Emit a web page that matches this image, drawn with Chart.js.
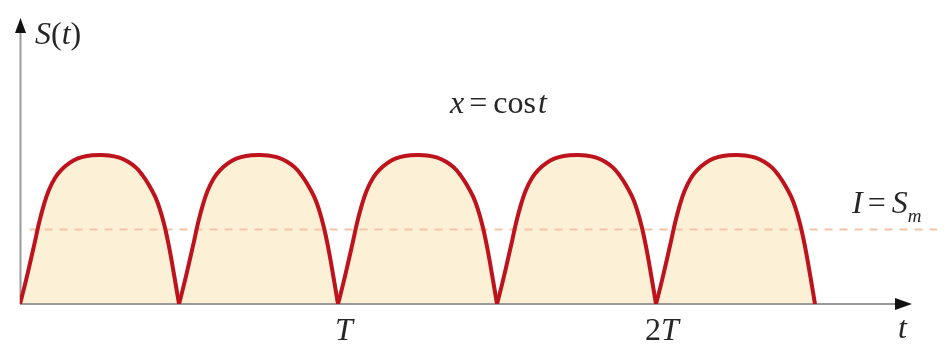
<!DOCTYPE html>
<html>
<head>
<meta charset="utf-8">
<script src="https://cdn.jsdelivr.net/npm/chart.js@4.4.1/dist/chart.umd.min.js"></script>
<style>
  body { margin: 0; background: #fff; }
  #wrap { width: 946px; height: 344px; }
</style>
</head>
<body>
<div id="wrap"><canvas id="signalChart"></canvas></div>
<script>
// one arch of S(t): position inside the arch (0..1) and its height (peak = 1)
const archPhase = [0, 0.03, 0.06, 0.09, 0.12, 0.15, 0.18, 0.22, 0.26, 0.31, 0.36, 0.42, 0.5,
  0.56, 0.62, 0.68, 0.73, 0.77, 0.81, 0.85, 0.88, 0.91, 0.94, 0.97, 1];
const archLevel = [0, 0.125, 0.26, 0.4, 0.545, 0.665, 0.76, 0.845, 0.9, 0.945, 0.975, 0.993, 1,
  0.997, 0.984, 0.955, 0.915, 0.865, 0.8, 0.72, 0.635, 0.52, 0.37, 0.19, 0];

// arches start every half period (t in units of T)
const archStarts = [0, 0.5, 1, 1.5, 2];
const archWidth = 0.5;

// mean level I = S_m
const meanLevel = 0.5;
const meanSpan = [0.03, 2.884];

const tickValues = [1, 2];
const tickLabels = [[{ t: "T", i: true }], [{ t: "2", i: false }, { t: "T", i: true }]];

const serif = "'Liberation Serif', 'DejaVu Serif', serif";
const inkColor = "#262626";
const axisColor = "#9a9a9a";

const archSets = archStarts.map((start) => ({
  data: archPhase.map((p, k) => ({ x: start + p * archWidth, y: archLevel[k] })),
  borderColor: "rgb(190, 18, 28)",
  borderWidth: 4,
  backgroundColor: "rgb(252, 240, 214)",
  fill: "origin",
  pointRadius: 0,
  tension: 0.4,
  borderJoinStyle: "round",
}));

const meanSet = {
  data: meanSpan.map((x) => ({ x: x, y: meanLevel })),
  borderColor: "rgb(242, 196, 168)",
  borderWidth: 2,
  borderDash: [8, 7],
  pointRadius: 0,
  fill: false,
  clip: false,
};

// text made of upright and italic pieces
const drawRuns = (ctx, x, y, runs, size, align) => {
  const fontOf = (r) => `${r.i ? "italic " : ""}${r.size || size}px ${serif}`;
  let width = 0;
  runs.forEach((r) => {
    ctx.font = fontOf(r);
    width += ctx.measureText(r.t).width + (r.gap || 0);
  });
  let cx = align === "center" ? x - width / 2 : x;
  runs.forEach((r) => {
    ctx.font = fontOf(r);
    ctx.fillText(r.t, cx, y + (r.dy || 0));
    cx += ctx.measureText(r.t).width + (r.gap || 0);
  });
};

const axesPlugin = {
  id: "axesPlugin",
  beforeDatasetsDraw(chart) {
    const { ctx, chartArea } = chart;
    const left = chartArea.left;
    const bottom = chartArea.bottom;
    ctx.save();
    ctx.strokeStyle = axisColor;
    ctx.lineWidth = 2;
    ctx.beginPath();
    ctx.moveTo(left + 0.5, bottom);
    ctx.lineTo(left + 0.5, chartArea.top + 10);
    ctx.moveTo(left, bottom);
    ctx.lineTo(chartArea.right - 10, bottom);
    ctx.stroke();

    ctx.fillStyle = "#111";
    ctx.beginPath();
    ctx.moveTo(left + 0.5, chartArea.top);
    ctx.lineTo(left + 6, chartArea.top + 15);
    ctx.lineTo(left - 5, chartArea.top + 15);
    ctx.closePath();
    ctx.fill();
    ctx.beginPath();
    ctx.moveTo(chartArea.right, bottom);
    ctx.lineTo(chartArea.right - 17, bottom - 6);
    ctx.lineTo(chartArea.right - 17, bottom + 6);
    ctx.closePath();
    ctx.fill();
    ctx.restore();
  },
  afterDraw(chart) {
    const { ctx } = chart;
    const xs = chart.scales.x;
    ctx.save();
    ctx.fillStyle = inkColor;
    ctx.textBaseline = "alphabetic";
    ctx.textAlign = "left";

    drawRuns(ctx, 35, 44, [{ t: "S", i: true }, { t: "(" }, { t: "t", i: true }, { t: ")" }], 32);
    drawRuns(ctx, 450, 113, [
      { t: "x", i: true, gap: 5 }, { t: "=", gap: 6 }, { t: "cos", gap: 2 }, { t: "t", i: true },
    ], 32);
    drawRuns(ctx, 852, 213, [
      { t: "I", i: true, gap: 5 }, { t: "=", gap: 6 }, { t: "S", i: true },
      { t: "m", i: true, size: 19, dy: 9 },
    ], 32);

    tickValues.forEach((v, k) => {
      drawRuns(ctx, xs.getPixelForValue(v) + 6, 340, tickLabels[k], 32, "center");
    });
    drawRuns(ctx, 898, 338, [{ t: "t", i: true }], 32);
    ctx.restore();
  },
};

new Chart(document.getElementById("signalChart"), {
  type: "line",
  data: { datasets: [...archSets, meanSet] },
  options: {
    responsive: true,
    maintainAspectRatio: false,
    animation: false,
    layout: { padding: { left: 20, top: 18, right: 34, bottom: 40 } },
    scales: {
      x: { type: "linear", min: 0, max: 2.805, display: false },
      y: { min: 0, max: 1.919, display: false },
    },
    plugins: {
      legend: { display: false },
      tooltip: { enabled: false },
      filler: { drawTime: "beforeDatasetsDraw" },
    },
  },
  plugins: [axesPlugin],
});
</script>
</body>
</html>
